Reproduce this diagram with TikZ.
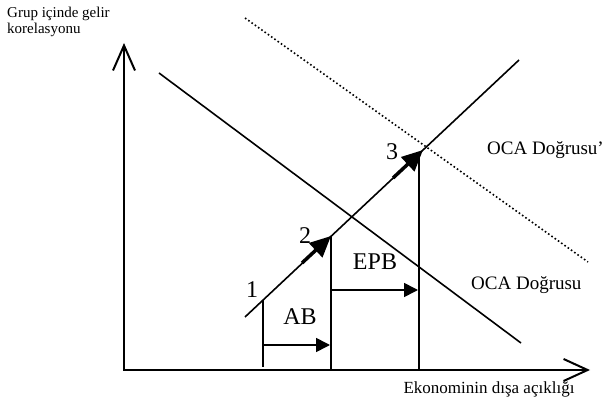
\documentclass[tikz,border=0pt]{standalone}
\usepackage{fontspec}
\setmainfont{Liberation Serif}
\usepackage{tikz}
\usetikzlibrary{arrows.meta,positioning,calc}

\begin{document}
\begin{tikzpicture}[x=1pt,y=-1pt,
    axis/.style={line width=2pt,{Straight Barb[length=25pt,width=22pt]}-{Straight Barb[length=24pt,width=22pt]}},
    guide/.style={line width=1.6pt},
    shiftarrow/.style={line width=1.6pt,-{Triangle[length=14pt,width=14pt]}},
    movearrow/.style={line width=3.5pt,-{Triangle[length=21pt,width=19pt]}},
    axlabel/.style={font=\fontsize{17}{17}\selectfont,inner sep=0pt},
    ocalabel/.style={font=\fontsize{19}{19}\selectfont,inner sep=0pt,anchor=west},
    biglabel/.style={font=\fontsize{24}{24}\selectfont,inner sep=0pt}]
  \useasboundingbox (0,0) rectangle (608,406);
  % Axes
  \coordinate (O) at (124,370);
  \coordinate (ytip) at (124,43);
  \coordinate (xtip) at (590,370);
  \draw[axis,line join=miter] (ytip) -- (O) -- (xtip);
  \node[axlabel,font=\fontsize{15}{16}\selectfont,align=left,anchor=north west] (ylbl) at (7,7)
    {Grup içinde gelir\\korelasyonu};
  \node[axlabel] (xlbl) at (489,389) {Ekonominin dışa açıklığı};
  % OCA lines
  \coordinate (oca1) at (159,73);
  \coordinate (oca2) at (521,343);
  \draw[guide] (oca1) -- (oca2);
  \coordinate (ocb1) at (245,18);
  \coordinate (ocb2) at (588,262);
  \draw[line width=1.6pt,dash pattern=on 1.6pt off 2.4pt] (ocb1) -- (ocb2);
  \node[ocalabel] (oca) at (471,285) {OCA Doğrusu};
  \node[ocalabel] (ocb) at (487,150) {OCA Doğrusu'};
  % Path of the economy
  \coordinate (g0) at (245,317);
  \coordinate (g1) at (519,60);
  \draw[guide] (g0) -- (g1);
  \coordinate (p1) at (263,300);
  \coordinate (a2) at (302,263);
  \coordinate (p2) at (331,236);
  \coordinate (a3) at (393,178);
  \coordinate (p3) at (423,150);
  \coordinate (v3) at (419,154);
  \draw[movearrow] (a2) -- (p2);
  \draw[movearrow] (a3) -- (p3);
  % Verticals
  \draw[guide] (p1) -- ($(p1|-O)+(0,-3)$);
  \draw[guide] (p2) -- (p2|-O);
  \draw[guide] (v3) -- (v3|-O);
  % Shifts
  \coordinate (ab0) at (263,345);
  \coordinate (ab1) at (330,345);
  \coordinate (ep0) at (331,290);
  \coordinate (ep1) at (418,290);
  \draw[shiftarrow] (ab0) -- (ab1);
  \draw[shiftarrow] (ep0) -- (ep1);
  \node[biglabel] (ab) at (300,317) {AB};
  \node[biglabel] (epb) at (375,262) {EPB};
  \node[biglabel] (n1) at (252,290) {1};
  \node[biglabel] (n2) at (305,236) {2};
  \node[biglabel] (n3) at (392,152) {3};
\end{tikzpicture}
\end{document}
